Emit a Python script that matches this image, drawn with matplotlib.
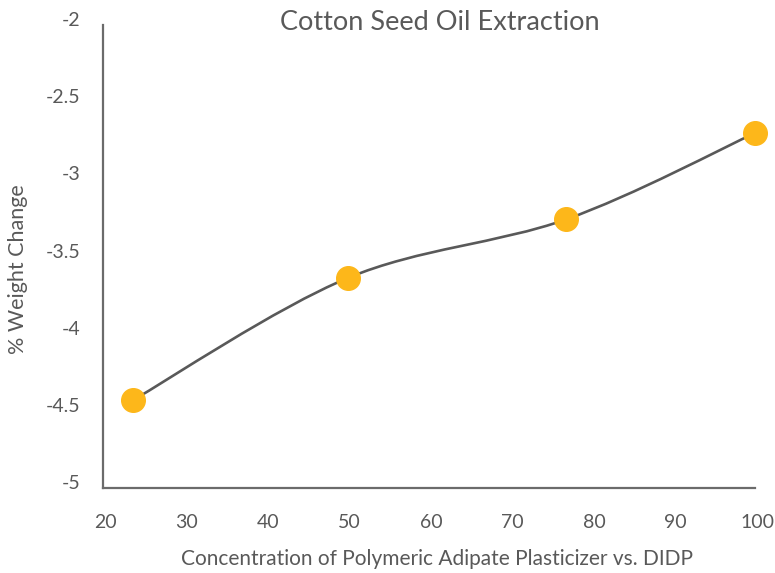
import numpy as np
import matplotlib
matplotlib.use("Agg")
import matplotlib.pyplot as plt
from matplotlib.path import Path
from matplotlib.patches import PathPatch
from matplotlib.transforms import ScaledTranslation

# data
concentration = [23.7, 50, 76.8, 100]
weight_change = [-4.43, -3.64, -3.26, -2.70]
x_ticks = [20, 30, 40, 50, 60, 70, 80, 90, 100]
y_ticks = [-5, -4.5, -4, -3.5, -3, -2.5, -2]

plt.rcParams['font.family'] = ['Lato', 'DejaVu Sans']
gray = '#595959'

fig = plt.figure(figsize=(7.75, 5.73), dpi=100)
ax = fig.add_axes([103 / 775, 1 - 488 / 573, 652 / 775, 463 / 573])

# smoothed line (Catmull-Rom style bezier through the points)
pts = np.column_stack([concentration, weight_change])
ext = np.vstack([pts[0], pts, pts[-1]])
verts = [tuple(pts[0])]
codes = [Path.MOVETO]
for i in range(len(pts) - 1):
    p0, p1, p2, p3 = ext[i], ext[i + 1], ext[i + 2], ext[i + 3]
    c1 = p1 + (p2 - p0) / 6
    c2 = p2 - (p3 - p1) / 6
    verts += [tuple(c1), tuple(c2), tuple(p2)]
    codes += [Path.CURVE4] * 3
ax.add_patch(PathPatch(Path(verts, codes), fill=False, edgecolor=gray,
                       linewidth=1.9, zorder=2, capstyle='round'))

ax.plot(concentration, weight_change, linestyle='none', marker='o',
        markersize=17, color='#FDB71A', markeredgecolor='#FDB71A', zorder=3,
        clip_on=False)

ax.set_xlim(20, 100)
ax.set_ylim(-5, -2)
ax.set_xticks(x_ticks)
ax.set_yticks(y_ticks)
ax.set_yticklabels([f'{v:g}' for v in y_ticks])

for s in ['top', 'right']:
    ax.spines[s].set_visible(False)
for s in ['left', 'bottom']:
    ax.spines[s].set_color('#6b6b6b')
    ax.spines[s].set_linewidth(1.6)

ax.tick_params(axis='both', length=0, labelsize=14, labelcolor=gray)
ax.tick_params(axis='y', pad=16)
ax.tick_params(axis='x', pad=19)
for lab in ax.get_yticklabels():
    lab.set_transform(lab.get_transform() + ScaledTranslation(0, 6 / 100, fig.dpi_scale_trans))
for lab in ax.get_xticklabels():
    lab.set_transform(lab.get_transform() + ScaledTranslation(2 / 100, 0, fig.dpi_scale_trans))

fig.text(440 / 775, 1 - 22 / 573, 'Cotton Seed Oil Extraction', ha='center', va='center',
         fontsize=19.5, color=gray)
fig.text(437 / 775, 1 - 559 / 573, 'Concentration of Polymeric Adipate Plasticizer vs. DIDP',
         ha='center', va='center', fontsize=15, color=gray)
fig.text(18 / 775, 1 - 269 / 573, '% Weight Change', ha='center', va='center',
         rotation=90, fontsize=15.5, color=gray)

fig.savefig('out.png', dpi=100)
